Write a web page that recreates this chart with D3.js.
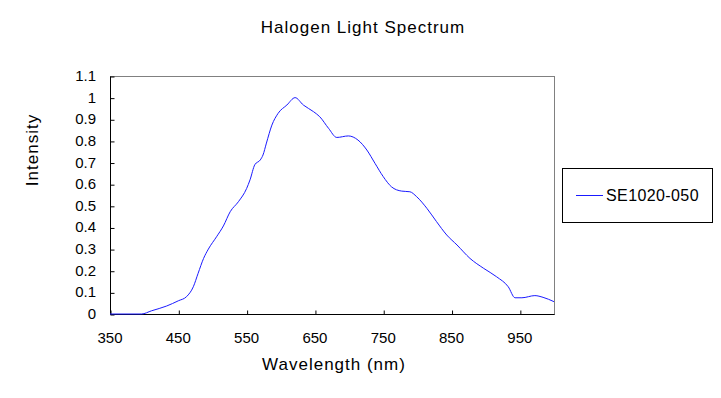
<!DOCTYPE html>
<html>
<head>
<meta charset="utf-8">
<script src="https://cdn.jsdelivr.net/npm/d3@7"></script>
<style>
  body { margin: 0; background: #fff; }
  text { font-family: "Liberation Sans", Arial, sans-serif; fill: #000; }
</style>
</head>
<body>
<div id="chart"></div>
<script>
// Spectrum samples
const wavelengths = [350, 396, 411, 433, 450, 462, 472, 479, 487, 494, 506, 516, 526, 538, 550, 555, 562, 570, 574, 579, 587, 596, 609, 621, 633, 648, 657, 670, 682, 699, 713, 726, 738, 750, 762, 777, 789, 799, 814, 828, 843, 858, 877, 897, 916, 933, 943, 953, 972, 984, 1000];
const intensities = [0, 0, 0.015, 0.037, 0.061, 0.08, 0.126, 0.188, 0.257, 0.30, 0.357, 0.407, 0.473, 0.519, 0.58, 0.62, 0.69, 0.712, 0.735, 0.79, 0.873, 0.927, 0.966, 1.0, 0.966, 0.935, 0.912, 0.858, 0.816, 0.823, 0.804, 0.758, 0.696, 0.635, 0.588, 0.568, 0.565, 0.542, 0.488, 0.427, 0.365, 0.319, 0.257, 0.211, 0.172, 0.126, 0.075, 0.075, 0.085, 0.077, 0.057];
const xTicks = [350, 450, 550, 650, 750, 850, 950];
const yTicks = [0, 0.1, 0.2, 0.3, 0.4, 0.5, 0.6, 0.7, 0.8, 0.9, 1, 1.1];
const seriesName = 'SE1020-050';

const width = 721;
const height = 398;
const plot = { left: 110, right: 554, top: 76, bottom: 314 };

const svg = d3.select('#chart')
    .append('svg')
    .attr('width', width)
    .attr('height', height);

const xScale = d3.scaleLinear().domain([350, 1000]).range([plot.left, plot.right]);
const yScale = d3.scaleLinear().domain([0, 1.1]).range([plot.bottom, plot.top]);

// plot area border (gray)
svg.append('rect')
    .attr('x', plot.left + 0.5)
    .attr('y', plot.top + 0.5)
    .attr('width', plot.right - plot.left)
    .attr('height', plot.bottom - plot.top)
    .attr('fill', '#fff')
    .attr('stroke', '#808080');

// Axes, ticks pointing inward
const xAxis = svg.append('g')
    .attr('transform', `translate(0.5, ${plot.bottom + 0.5})`)
    .call(d3.axisTop(xScale).tickValues(xTicks).tickSize(4).tickFormat(''));
xAxis.select('.domain').attr('d', `M${plot.left},0H${plot.right}`).attr('stroke', '#000');

svg.append('g')
    .selectAll('text')
    .data(xTicks)
    .join('text')
    .attr('x', d => xScale(d))
    .attr('y', plot.bottom + 29)
    .attr('text-anchor', 'middle')
    .style('font-size', '15px')
    .text(d => d);

const yAxis = svg.append('g')
    .attr('transform', `translate(${plot.left + 0.5}, 0.5)`)
    .call(d3.axisRight(yScale).tickValues(yTicks).tickSize(4).tickFormat(''));
yAxis.select('.domain').attr('d', `M0,${plot.top}V${plot.bottom}`).attr('stroke', '#000');

svg.append('g')
    .selectAll('text')
    .data(yTicks)
    .join('text')
    .attr('x', plot.left - 14)
    .attr('y', d => yScale(d) + 5)
    .attr('text-anchor', 'end')
    .style('font-size', '15px')
    .text(d => d3.format('~g')(d));

// Spectrum line
const points = wavelengths.map((w, i) => [w, intensities[i]]);
const line = d3.line()
    .x(d => xScale(d[0]))
    .y(d => yScale(d[1]))
    .curve(d3.curveMonotoneX);

svg.append('path')
    .datum(points)
    .attr('fill', 'none')
    .attr('stroke', '#1a1aff')
    .attr('stroke-width', 1)
    .attr('d', line);

// Title and axis labels
svg.append('text')
    .attr('x', 363)
    .attr('y', 33)
    .attr('text-anchor', 'middle')
    .style('font-size', '17px')
    .style('letter-spacing', '1px')
    .text('Halogen Light Spectrum');

svg.append('text')
    .attr('x', 334)
    .attr('y', 370)
    .attr('text-anchor', 'middle')
    .style('font-size', '17px')
    .style('letter-spacing', '1px')
    .text('Wavelength (nm)');

svg.append('text')
    .attr('transform', `translate(38, 150) rotate(-90)`)
    .attr('text-anchor', 'middle')
    .style('font-size', '17px')
    .style('letter-spacing', '1px')
    .text('Intensity');

// Legend
const legend = svg.append('g');
legend.append('rect')
    .attr('x', 562.5)
    .attr('y', 168.5)
    .attr('width', 150)
    .attr('height', 54)
    .attr('fill', '#fff')
    .attr('stroke', '#000');
legend.append('line')
    .attr('x1', 576)
    .attr('x2', 603)
    .attr('y1', 195.5)
    .attr('y2', 195.5)
    .attr('stroke', '#1a1aff');
legend.append('text')
    .attr('x', 606)
    .attr('y', 201)
    .style('font-size', '16px')
    .style('letter-spacing', '0.4px')
    .text(seriesName);
</script>
</body>
</html>
